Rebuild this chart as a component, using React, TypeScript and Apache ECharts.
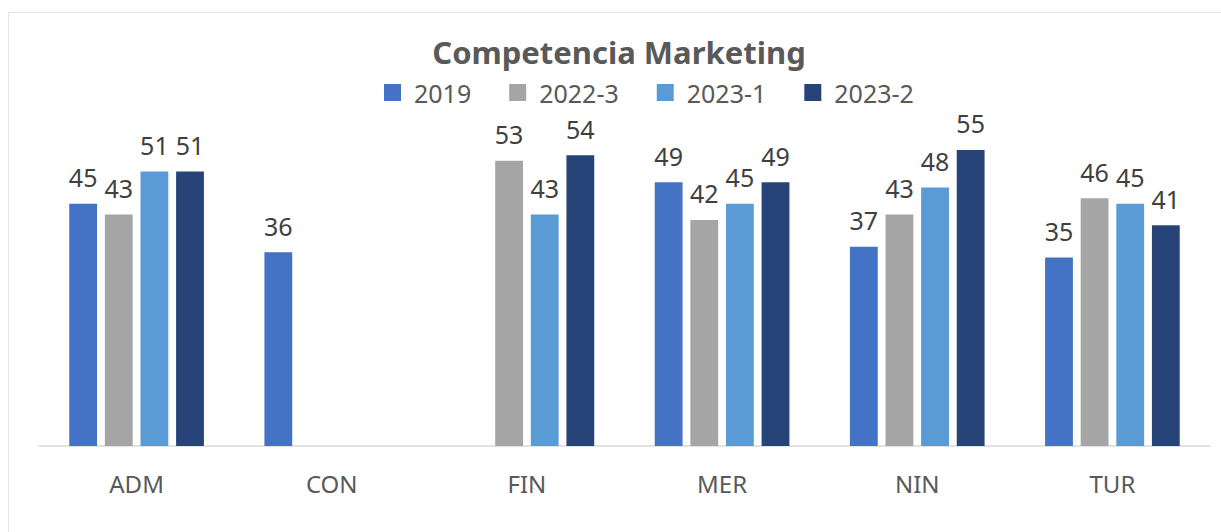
import React, { useEffect, useRef } from "react";
import * as echarts from "echarts";

const categories = ["ADM", "CON", "FIN", "MER", "NIN", "TUR"];
const seriesNames = ["2019", "2022-3", "2023-1", "2023-2"];
const s2019 = [45, 36, null, 49, 37, 35];
const s2022_3 = [43, null, 53, 42, 43, 46];
const s2023_1 = [51, null, 43, 45, 48, 45];
const s2023_2 = [51, null, 54, 49, 55, 41];
const colors = ["#4472C4", "#A5A5A5", "#5B9BD5", "#264478"];

const FONT = "'Noto Sans', 'Open Sans', sans-serif";

export default function App() {
  const ref = useRef<HTMLDivElement>(null);
  useEffect(() => {
    if (!ref.current) return;
    const chart = echarts.init(ref.current, null, { renderer: "svg" });
    const dataSets = [s2019, s2022_3, s2023_1, s2023_2];
    chart.setOption({
      animation: false,
      backgroundColor: "#ffffff",
      textStyle: { fontFamily: FONT },
      title: {
        text: "Competencia Marketing",
        left: "center",
        top: 23,
        padding: 0,
        textStyle: { fontFamily: FONT, fontSize: 31, fontWeight: "bold", color: "#595959" },
      },
      legend: {
        left: 375,
        top: 67,
        padding: 0,
        icon: "rect",
        itemWidth: 17,
        itemHeight: 17,
        itemGap: 38,
        textStyle: { fontFamily: FONT, fontSize: 25, color: "#595959", padding: [0, 0, 0, 8] },
        data: seriesNames,
      },
      grid: { left: 30, right: 19, top: 110, bottom: 98, containLabel: false },
      xAxis: {
        type: "category",
        data: categories,
        axisLine: { lineStyle: { color: "#d9d9d9", width: 1.5 } },
        axisTick: { show: false },
        axisLabel: { fontFamily: FONT, fontSize: 24, color: "#595959", margin: 25 },
      },
      yAxis: {
        type: "value",
        min: 0,
        max: 60,
        show: false,
        splitLine: { show: false },
      },
      series: seriesNames.map((name, i) => ({
        name,
        type: "bar",
        data: dataSets[i],
        barCategoryGap: "31%",
        barGap: "28%",
        itemStyle: { color: colors[i] },
        label: {
          show: true,
          position: "top",
          distance: 14,
          fontFamily: FONT,
          fontSize: 25,
          color: "#404040",
        },
      })),
    });
    return () => chart.dispose();
  }, []);
  return (
    <div
      ref={ref}
      style={{
        position: "fixed",
        left: 8,
        top: 12,
        width: 1221,
        height: 532,
        borderLeft: "1px solid #e6e6e6",
        borderTop: "1px solid #e6e6e6",
        boxSizing: "border-box",
      }}
    />
  );
}
